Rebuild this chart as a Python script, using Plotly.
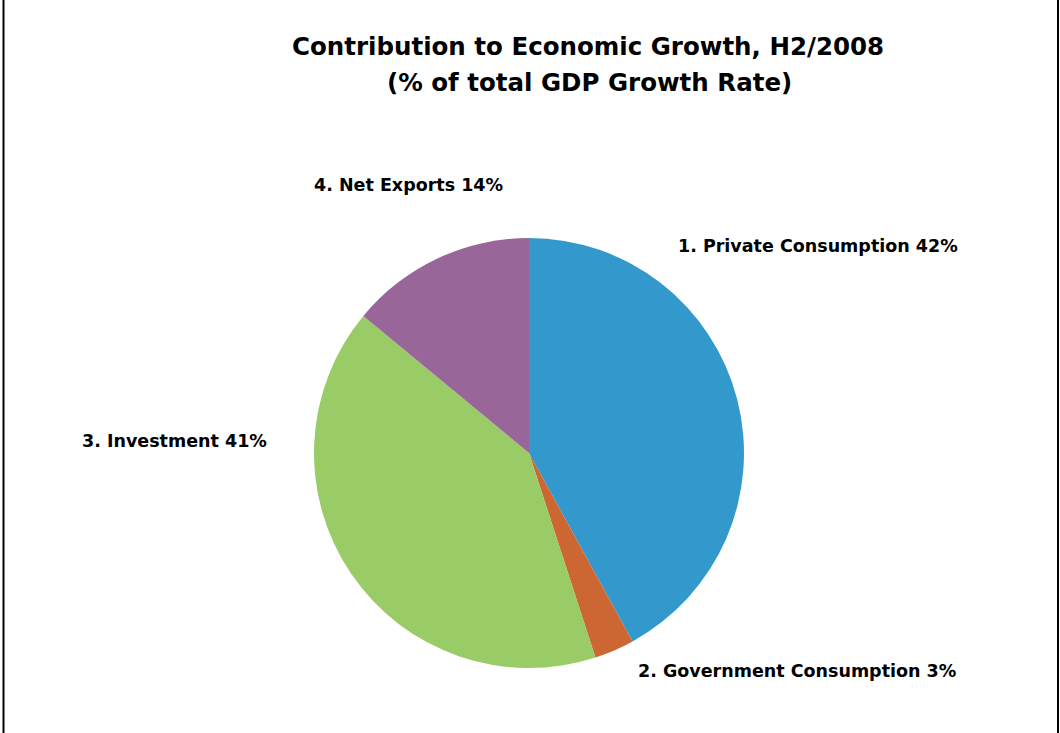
import plotly.graph_objects as go

categories = ["1. Private Consumption", "2. Government Consumption", "3. Investment", "4. Net Exports"]
values = [42, 3, 41, 14]
colors = ["#3399CC", "#CC6633", "#99CC66", "#996699"]
title_lines = ["Contribution to Economic Growth, H2/2008", "(% of total GDP Growth Rate)"]

W, H = 1060, 733
cx, cy, r = 529, 453, 215

fig = go.Figure(go.Pie(
    labels=categories,
    values=values,
    sort=False,
    direction="clockwise",
    rotation=0,
    marker=dict(colors=colors, line=dict(width=0)),
    textinfo="none",
    hoverinfo="label+percent",
    domain=dict(x=[(cx - r) / W, (cx + r) / W], y=[(H - cy - r) / H, (H - cy + r) / H]),
    showlegend=False,
))

# label centres in pixels
label_pos = [(818, 246), (797, 671), (174, 441), (408, 185)]
for cat, val, (lx, ly) in zip(categories, values, label_pos):
    fig.add_annotation(
        x=lx / W, y=1 - ly / H, xref="paper", yref="paper",
        xanchor="center", yanchor="middle", showarrow=False,
        text=f"{cat} {val}%",
        font=dict(family="DejaVu Sans", size=17.5, color="#000000", weight="bold"),
    )

for line, (tx, ty) in zip(title_lines, [(588, 47), (589, 82)]):
    fig.add_annotation(
        x=tx / W, y=1 - ty / H, xref="paper", yref="paper",
        xanchor="center", yanchor="middle", showarrow=False,
        text=line,
        font=dict(family="DejaVu Sans", size=24.5, color="#000000", weight="bold"),
    )

for x in (3.5 / W, 1058 / W):
    fig.add_shape(type="line", xref="paper", yref="paper", x0=x, x1=x, y0=0, y1=1,
                  line=dict(color="#000000", width=2))

fig.update_layout(
    width=W, height=H,
    margin=dict(l=0, r=0, t=0, b=0),
    paper_bgcolor="#FFFFFF",
    plot_bgcolor="#FFFFFF",
)

fig.write_html("out.html", config={"displayModeBar": False},
               post_script="document.body.style.margin='0';document.body.style.overflow='hidden';")
